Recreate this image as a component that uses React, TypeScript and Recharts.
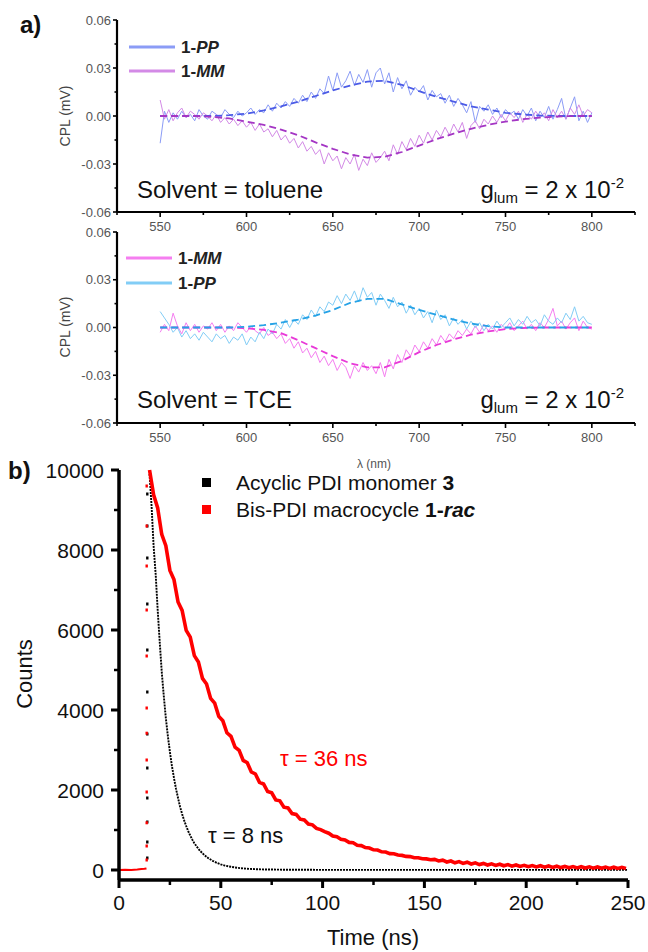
import React from "react";
import { ComposedChart, LineChart, Line, Scatter, XAxis, YAxis } from "recharts";

const FONT = "'Liberation Sans', Arial, Helvetica, sans-serif";

// ---- panel a: CPL spectra (values in 10^-3 mV) ----
const wavelength = [
  550, 552.5, 555, 557.5, 560, 562.5, 565, 567.5, 570, 572.5,
  575, 577.5, 580, 582.5, 585, 587.5, 590, 592.5, 595, 597.5,
  600, 602.5, 605, 607.5, 610, 612.5, 615, 617.5, 620, 622.5,
  625, 627.5, 630, 632.5, 635, 637.5, 640, 642.5, 645, 647.5,
  650, 652.5, 655, 657.5, 660, 662.5, 665, 667.5, 670, 672.5,
  675, 677.5, 680, 682.5, 685, 687.5, 690, 692.5, 695, 697.5,
  700, 702.5, 705, 707.5, 710, 712.5, 715, 717.5, 720, 722.5,
  725, 727.5, 730, 732.5, 735, 737.5, 740, 742.5, 745, 747.5,
  750, 752.5, 755, 757.5, 760, 762.5, 765, 767.5, 770, 772.5,
  775, 777.5, 780, 782.5, 785, 787.5, 790, 792.5, 795, 797.5,
  800,
];

const toluenePP = [
  -17, 3, -4, 2, -2, 3, -1, 1, -3, 4,
  0, -2, 3, 1, -1, 4, 1, -1, 3, 0,
  2, 5, 1, 4, 2, 7, 3, 8, 5, 9,
  6, 11, 8, 13, 9, 15, 11, 17, 14, 25,
  16, 27, 18, 22, 28, 19, 26, 21, 29, 18,
  27, 30, 20, 27, 15, 24, 17, 22, 13, 18,
  15, 19, 10, 16, 12, 14, 8, 13, 6, 11,
  7, 2, 9, -4, 6, 3, 7, 1, 5, -1,
  4, 1, 3, -2, 4, 0, 5, -3, 3, -1,
  6, -2, 4, 11, -2, 5, 12, -3, 3, -4,
  2,
];

const tolueneMM = [
  10, -2, 4, -3, 2, 5, -1, 3, 1, -2,
  2, 0, -3, 1, -4, -1, -5, -2, -6, -3,
  -7, -4, -9, -5, -10, -8, -13, -9, -15, -12,
  -17, -14, -20, -16, -22, -19, -24, -21, -30, -23,
  -28, -25, -33, -26, -30, -24, -34, -27, -31, -23,
  -29, -26, -22, -28, -18, -24, -16, -21, -14, -19,
  -12, -17, -10, -15, -9, -13, -7, -12, -5, -10,
  -4, -14, -6, -3, -8, -2, -5, 0, -4, 1,
  -3, 2, -1, 3, -4, 1, -2, 3, -1, 2,
  -3, 4, -1, 3, -2, 5, 1, 7, 0, 4,
  2,
];

const tcePP = [
  10, 6, 2, -3, 0, -6, -2, -7, -4, -8,
  -3, -6, -9, -4, -7, -5, -10, -6, -8, -4,
  -11, -6, -9, -3, -7, -1, -4, 2, -1, 5,
  0, 5, 2, 8, 5, 11, 7, 13, 10, 16,
  14, 20, 15, 21, 17, 23, 16, 25, 19, 22,
  14, 21, 17, 12, 19, 13, 16, 9, 14, 8,
  12, 6, 10, 3, 11, 5, 8, 1, 6, 2,
  5, -1, 4, 0, 3, -2, 2, -1, 4, 0,
  3, 6, 1, 5, 2, 7, 3, 5, 1, 8,
  4, 2, 6, 3, 9, 5, 13, 4, 7, 3,
  2,
];

const tceMM = [
  -3, 2, -2, 9, 1, -4, 3, -2, 2, -3,
  1, -1, 3, -2, 2, -3, 1, -2, 3, 0,
  -3, 1, -2, -4, 0, -5, -3, -7, -4, -10,
  -7, -13, -9, -16, -13, -19, -15, -22, -18, -24,
  -20, -27, -22, -25, -32, -24, -28, -22, -27, -24,
  -29, -22, -31, -20, -26, -17, -22, -14, -18, -11,
  -15, -9, -13, -7, -11, -5, -9, -4, -7, -2,
  -5, -1, -4, 1, -3, 2, -2, 1, -3, 2,
  -1, 3, -2, 1, 4, -1, 2, -2, 3, 0,
  5, 12, 1, 4, -1, 3, 6, -2, 4, 0,
  -1,
];

// fitted (dashed) curves, 10 nm grid
const fitWavelength = [
  550, 560, 570, 580, 590, 600, 610, 620, 630, 640, 650, 660, 670,
  680, 690, 700, 710, 720, 730, 740, 750, 760, 770, 780, 790, 800,
];
const tolueneFitPP = [0, 0, 0, 0, 0.5, 1.5, 3.5, 6, 9, 12.5, 16, 19, 21.5, 22, 19.5, 15.5, 12, 9, 6, 4, 2, 1, 0.3, 0, 0, 0];
const tolueneFitMM = [0, 0, 0, -0.5, -1.5, -3.5, -5.5, -8.5, -12, -16.5, -20.5, -24, -26, -25.5, -22.5, -18.5, -14.5, -11, -8, -5.5, -3.5, -2, -1, -0.3, 0, 0];
const tceFitPP = [0, 0, 0, 0, 0, 0.5, 1.5, 3, 5, 7.5, 11, 15.5, 18, 18, 14.5, 11, 8, 5, 2.5, 0.8, 0, 0, 0, 0, 0, 0];
const tceFitMM = [0, 0, 0, 0, 0, -0.5, -1.5, -3.5, -8, -13, -18, -22.5, -25, -25, -21, -15.5, -11, -7.5, -4.5, -2.5, -1, -0.3, 0, 0, 0, 0];

const cplXTicks = [525, 550, 575, 600, 625, 650, 675, 700, 725, 750, 775, 800, 825];
const cplYTicks = [-0.06, -0.045, -0.03, -0.015, 0, 0.015, 0.03, 0.045, 0.06];

// ---- panel b: fluorescence decays ----
const redBaseTime = [0, 3, 6, 9, 11, 12.5, 13.5];
const redBaseCounts = [0, 5, 0, 10, 25, 30, 40];
const redRiseTime = 13.6;
const redRiseCounts = [250, 600, 1180, 1950, 2750, 3420, 4050, 5350, 6500, 7600, 8600, 9600];
const blackRiseTime = 13.9;
const blackRiseCounts = [300, 700, 1200, 1800, 2550, 3400, 4450, 5500, 6650, 7800, 8600, 9400];

const redTime = [
  15, 17, 19, 21, 23, 25, 27, 29, 31, 33,
  35, 37, 39, 41, 43, 45, 47, 49, 51, 53,
  55, 57, 59, 61, 63, 65, 67, 69, 71, 73,
  75, 77, 79, 81, 83, 85, 87, 89, 91, 93,
  95, 97, 99, 101, 103, 105, 107, 109, 111, 113,
  115, 117, 119, 121, 123, 125, 127, 129, 131, 133,
  135, 137, 139, 141, 143, 145, 147, 149, 151, 153,
  155, 157, 159, 161, 163, 165, 167, 169, 171, 173,
  175, 177, 179, 181, 183, 185, 187, 189, 191, 193,
  195, 197, 199, 201, 203, 205, 207, 209, 211, 213,
  215, 217, 219, 221, 223, 225, 227, 229, 231, 233,
  235, 237, 239, 241, 243, 245, 247, 249,
];
const redCounts = [
  10000, 9380, 9050, 8390, 8110, 7490, 7260, 6700, 6490, 5990,
  5820, 5360, 5200, 4790, 4650, 4290, 4170, 3840, 3730, 3430,
  3340, 3070, 2990, 2740, 2680, 2450, 2400, 2190, 2150, 1960,
  1930, 1750, 1730, 1570, 1550, 1410, 1390, 1270, 1250, 1150,
  1130, 1040, 1010, 960, 920, 850, 830, 770, 750, 690,
  680, 620, 610, 560, 550, 505, 500, 455, 450, 410,
  405, 375, 365, 340, 335, 305, 305, 280, 278, 255,
  265, 225, 245, 200, 225, 180, 210, 165, 195, 150,
  180, 135, 165, 125, 155, 115, 145, 105, 135, 95,
  125, 88, 118, 82, 112, 76, 106, 70, 100, 64,
  95, 60, 90, 56, 86, 52, 82, 48, 78, 45,
  75, 42, 72, 40, 70, 38, 66, 36,
];

const blackTime = [
  15, 16, 17, 18, 19, 20, 21, 22, 23, 24, 25, 26, 27, 28, 29, 30,
  31, 32, 33, 34, 35, 36, 37, 38, 39, 40, 42, 44, 46, 48, 50, 52,
  55, 58, 61, 65, 70, 80, 90, 100, 120, 150, 200, 250,
];
const blackCounts = [
  9900, 9100, 8100, 7400, 6500, 5700, 4950, 4350, 3800, 3350, 2950, 2600, 2300, 2030, 1800, 1580,
  1400, 1240, 1100, 970, 860, 760, 670, 600, 530, 470, 370, 290, 230, 180, 140, 110,
  80, 55, 40, 25, 15, 8, 5, 4, 3, 2, 2, 2,
];

const timeTicks = [0, 25, 50, 75, 100, 125, 150, 175, 200, 225, 250];
const countTicks = [0, 1000, 2000, 3000, 4000, 5000, 6000, 7000, 8000, 9000, 10000];

const toXY = (xs: number[], ys: number[], k = 1) => xs.map((x, i) => ({ x, y: ys[i] * k }));
const toTC = (ts: number[], cs: number[]) => ts.map((t, i) => ({ t, c: cs[i] }));

function cplXTick(p: any) {
  const v = p.payload.value;
  const major = v % 50 === 0;
  return (
    <g>
      <line x1={p.x} x2={p.x} y1={p.y} y2={p.y + (major ? 5 : 3)} stroke="#000" strokeWidth={1.6} />
      {major && (
        <text x={p.x} y={p.y + 19} textAnchor="middle" fontSize={13} fill="#555" fontFamily={FONT}>
          {v}
        </text>
      )}
    </g>
  );
}

function cplYTick(p: any) {
  const v = p.payload.value;
  const major = Math.round(v * 1000) % 30 === 0;
  return (
    <g>
      <line x1={p.x - (major ? 4 : 2.5)} x2={p.x} y1={p.y} y2={p.y} stroke="#000" strokeWidth={1.6} />
      {major && (
        <text x={p.x - 6} y={p.y + 4.5} textAnchor="end" fontSize={13} fill="#555" fontFamily={FONT}>
          {v.toFixed(2)}
        </text>
      )}
    </g>
  );
}

function timeTick(p: any) {
  const v = p.payload.value;
  const major = v % 50 === 0;
  return (
    <g>
      <line x1={p.x} x2={p.x} y1={p.y} y2={p.y + (major ? 8 : 5)} stroke="#000" strokeWidth={major ? 3 : 2.5} />
      {major && (
        <text x={p.x} y={p.y + 30} textAnchor="middle" fontSize={21} fill="#111" fontFamily={FONT}>
          {v}
        </text>
      )}
    </g>
  );
}

function countTick(p: any) {
  const v = p.payload.value;
  const major = v % 2000 === 0;
  return (
    <g>
      <line x1={p.x - (major ? 8 : 5)} x2={p.x} y1={p.y} y2={p.y} stroke="#000" strokeWidth={major ? 3 : 2.5} />
      {major && (
        <text x={p.x - 15} y={p.y + 7.5} textAnchor="end" fontSize={21} fill="#111" fontFamily={FONT}>
          {v}
        </text>
      )}
    </g>
  );
}

type Trace = { data: { x: number; y: number }[]; color: string; dashed?: boolean };

function CplPanel({ top, plotHeight, traces }: { top: number; plotHeight: number; traces: Trace[] }) {
  return (
    <div style={{ position: "absolute", left: 0, top }}>
      <LineChart width={648} height={20 + plotHeight + 30} margin={{ top: 20, right: 13, bottom: 0, left: 0 }}>
        <XAxis
          type="number"
          dataKey="x"
          domain={[525, 825]}
          ticks={cplXTicks}
          interval={0}
          tickLine={false}
          tickSize={0}
          tickMargin={0}
          height={30}
          axisLine={{ stroke: "#000", strokeWidth: 2.2 }}
          tick={cplXTick}
          allowDataOverflow
        />
        <YAxis
          type="number"
          dataKey="y"
          domain={[-0.06, 0.06]}
          ticks={cplYTicks}
          interval={0}
          tickLine={false}
          tickSize={0}
          tickMargin={0}
          width={117}
          axisLine={{ stroke: "#000", strokeWidth: 2.2 }}
          tick={cplYTick}
          allowDataOverflow
        />
        {traces.map((tr, i) => (
          <Line
            key={i}
            data={tr.data}
            dataKey="y"
            type="linear"
            dot={false}
            stroke={tr.color}
            strokeWidth={tr.dashed ? 1.8 : 1}
            strokeDasharray={tr.dashed ? "7 4" : undefined}
            isAnimationActive={false}
          />
        ))}
      </LineChart>
    </div>
  );
}

function DecayPanel() {
  const redBase = toTC(redBaseTime, redBaseCounts);
  const redRise = redRiseCounts.map((c) => ({ t: redRiseTime, c }));
  const blackRise = blackRiseCounts.map((c) => ({ t: blackRiseTime, c }));
  const red = toTC(redTime, redCounts);
  const black = toTC(blackTime, blackCounts);
  return (
    <div style={{ position: "absolute", left: 0, top: 450 }}>
      <ComposedChart width={648} height={502} margin={{ top: 20, right: 20, bottom: 0, left: 0 }}>
        <XAxis
          type="number"
          dataKey="t"
          domain={[0, 250]}
          ticks={timeTicks}
          interval={0}
          tickLine={false}
          tickSize={0}
          tickMargin={0}
          height={72}
          axisLine={{ stroke: "#000", strokeWidth: 3.5 }}
          tick={timeTick}
        />
        <YAxis
          type="number"
          dataKey="c"
          domain={[-250, 10000]}
          ticks={countTicks}
          interval={0}
          tickLine={false}
          tickSize={0}
          tickMargin={0}
          width={119}
          axisLine={{ stroke: "#000", strokeWidth: 3.5 }}
          tick={countTick}
        />
        <Line data={black} dataKey="c" type="linear" dot={false} stroke="#000" strokeWidth={1.9} strokeDasharray="2 1" isAnimationActive={false} />
        <Scatter
          data={blackRise}
          dataKey="c"
          isAnimationActive={false}
          shape={(p: any) => <rect x={p.cx - 1.2} y={p.cy - 1.5} width={2.4} height={3} fill="#000" />}
        />
        <Line data={redBase} dataKey="c" type="linear" dot={false} stroke="#ff0000" strokeWidth={2} isAnimationActive={false} />
        <Line data={red} dataKey="c" type="linear" dot={false} stroke="#ff0000" strokeWidth={3.6} isAnimationActive={false} />
        <Scatter
          data={redRise}
          dataKey="c"
          isAnimationActive={false}
          shape={(p: any) => <rect x={p.cx - 1.2} y={p.cy - 1.5} width={2.4} height={3} fill="#ff0000" />}
        />
      </ComposedChart>
    </div>
  );
}

function Glum({ y }: { y: number }) {
  return (
    <text x={624} y={y} textAnchor="end" fontSize={24} fill="#111">
      g<tspan fontSize={15} dy={5}>lum</tspan>
      <tspan dy={-5}> = 2 x 10</tspan>
      <tspan fontSize={15} dy={-10}>-2</tspan>
    </text>
  );
}

function Overlay() {
  return (
    <svg width={648} height={952} style={{ position: "absolute", left: 0, top: 0, pointerEvents: "none" }} fontFamily={FONT}>
      {/* panel a */}
      <text x={20} y={33} fontSize={24} fontWeight="bold" fill="#111">a)</text>
      <line x1={129} x2={175} y1={47} y2={47} stroke="#8b9cf6" strokeWidth={3} />
      <text x={181} y={53} fontSize={17} fontWeight="bold" fill="#222">1-<tspan fontStyle="italic">PP</tspan></text>
      <line x1={129} x2={175} y1={71} y2={71} stroke="#d38ae6" strokeWidth={3} />
      <text x={181} y={77} fontSize={17} fontWeight="bold" fill="#222">1-<tspan fontStyle="italic">MM</tspan></text>
      <text x={137} y={198} fontSize={24} fill="#111">Solvent = toluene</text>
      <Glum y={198} />
      <text transform="translate(70,116) rotate(-90)" textAnchor="middle" fontSize={14} fill="#444">CPL (mV)</text>

      <line x1={126} x2={172} y1={258} y2={258} stroke="#f57ef0" strokeWidth={3} />
      <text x={178} y={264} fontSize={17} fontWeight="bold" fill="#222">1-<tspan fontStyle="italic">MM</tspan></text>
      <line x1={126} x2={172} y1={283} y2={283} stroke="#82cdf6" strokeWidth={3} />
      <text x={178} y={289} fontSize={17} fontWeight="bold" fill="#222">1-<tspan fontStyle="italic">PP</tspan></text>
      <text x={137} y={408} fontSize={24} fill="#111">Solvent = TCE</text>
      <Glum y={408} />
      <text transform="translate(70,327) rotate(-90)" textAnchor="middle" fontSize={14} fill="#444">CPL (mV)</text>
      <text x={374} y={468} textAnchor="middle" fontSize={12} fill="#555">λ (nm)</text>

      {/* panel b */}
      <text x={8} y={479} fontSize={24} fontWeight="bold" fill="#111">b)</text>
      <rect x={202} y={478} width={9} height={9} fill="#000" />
      <text x={236} y={490} fontSize={21} fill="#111">Acyclic PDI monomer <tspan fontWeight="bold">3</tspan></text>
      <rect x={202} y={505} width={9} height={9} fill="#ff0000" />
      <text x={236} y={517} fontSize={21} fill="#111">
        Bis-PDI macrocycle <tspan fontWeight="bold">1-</tspan><tspan fontWeight="bold" fontStyle="italic">rac</tspan>
      </text>
      <text x={280} y={766} fontSize={22} fill="#ff0000">τ = 36 ns</text>
      <text x={208} y={843} fontSize={22} fill="#111">τ = 8 ns</text>
      <text transform="translate(32,674) rotate(-90)" textAnchor="middle" fontSize={22} fill="#111">Counts</text>
      <text x={373} y={945} textAnchor="middle" fontSize={22} fill="#111">Time (ns)</text>
    </svg>
  );
}

export default function App() {
  const k = 0.001;
  const topTraces: Trace[] = [
    { data: toXY(wavelength, toluenePP, k), color: "#8b9cf6" },
    { data: toXY(wavelength, tolueneMM, k), color: "#d38ae6" },
    { data: toXY(fitWavelength, tolueneFitPP, k), color: "#4b5be6", dashed: true },
    { data: toXY(fitWavelength, tolueneFitMM, k), color: "#a436c4", dashed: true },
  ];
  const bottomTraces: Trace[] = [
    { data: toXY(wavelength, tceMM, k), color: "#f57ef0" },
    { data: toXY(wavelength, tcePP, k), color: "#82cdf6" },
    { data: toXY(fitWavelength, tceFitMM, k), color: "#e83ad8", dashed: true },
    { data: toXY(fitWavelength, tceFitPP, k), color: "#26a2e6", dashed: true },
  ];
  return (
    <div style={{ position: "absolute", left: 0, top: 0, width: 648, height: 952, background: "#fff", fontFamily: FONT }}>
      <CplPanel top={0} plotHeight={192} traces={topTraces} />
      <CplPanel top={212} plotHeight={191} traces={bottomTraces} />
      <DecayPanel />
      <Overlay />
    </div>
  );
}
